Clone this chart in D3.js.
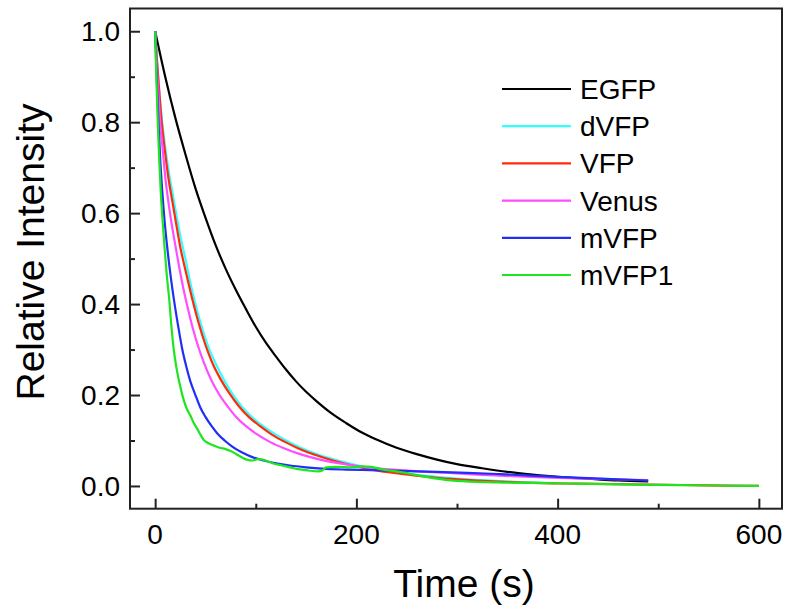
<!DOCTYPE html>
<html>
<head>
	<title>Photobleaching curves</title>
	<style>
		body { margin: 0; background: #fff; }
		svg text { font-family: "Liberation Sans", Arial, sans-serif; fill: #000; }
		.line { fill: none; stroke-width: 2.2px; stroke-linejoin: round; }
	</style>
</head>
<body>
	<div id="chart"></div>
	<script src="https://cdn.jsdelivr.net/npm/d3@7"></script>
	<script>
		// series names and colours (legend order)
		var seriesNames = ['EGFP', 'dVFP', 'VFP', 'Venus', 'mVFP', 'mVFP1'];
		var seriesColors = ['#000000', '#33ffff', '#ff2a0a', '#ff4dff', '#1f2ff5', '#1ee61e'];

		// values: [time (s), relative intensity]
		var egfp = [[0,1.0],[10,0.90],[20,0.81],[30,0.73],[40,0.655],[50,0.59],[60,0.53],[70,0.478],[80,0.432],[90,0.39],[100,0.35],[110,0.315],[120,0.285],[130,0.256],[140,0.23],[150,0.207],[160,0.187],[175,0.16],[190,0.138],[205,0.118],[220,0.102],[240,0.084],[260,0.07],[280,0.058],[300,0.048],[325,0.039],[350,0.031],[375,0.025],[400,0.02],[430,0.016],[460,0.012],[490,0.01]];
		var dvfp = [[0,1],[2,0.93],[4,0.87],[7,0.8],[10,0.745],[14,0.685],[18,0.635],[22,0.585],[26,0.54],[30,0.5],[35,0.447],[40,0.4],[46,0.352],[53,0.305],[60,0.27],[68,0.235],[77,0.202],[86,0.175],[96,0.152],[107,0.132],[120,0.113],[133,0.097],[147,0.082],[162,0.069],[180,0.057],[200,0.046],[220,0.037],[243,0.029],[270,0.022],[300,0.016],[343,0.0105],[370,0.008],[400,0.006]];
		var vfp = [[0,1],[2,0.93],[4,0.87],[6.5,0.8],[9.5,0.74],[13,0.68],[17,0.627],[21,0.575],[25,0.525],[29,0.485],[33,0.447],[37,0.41],[43,0.36],[50,0.31],[57,0.27],[65,0.235],[74,0.203],[83,0.176],[93,0.152],[104,0.132],[116,0.113],[129,0.097],[143,0.082],[158,0.069],[175,0.057],[194,0.046],[215,0.036],[243,0.027],[280,0.018],[320,0.012],[360,0.008],[420,0.005],[490,0.003],[550,0.0015],[600,0.0]];
		var venus = [[0,1],[1.5,0.93],[3,0.87],[5,0.8],[7.5,0.74],[10,0.68],[13,0.627],[16.5,0.575],[20,0.53],[24,0.48],[28,0.435],[32,0.395],[37,0.35],[43,0.305],[49,0.268],[56,0.232],[64,0.2],[72,0.175],[80,0.153],[90,0.132],[101,0.114],[114,0.097],[128,0.083],[144,0.07],[164,0.058],[185,0.049],[210,0.041],[243,0.035],[280,0.03],[320,0.025],[360,0.021],[400,0.018],[450,0.015],[490,0.013]];
		var mvfp = [[0,1],[1,0.93],[2,0.87],[3.3,0.8],[5,0.72],[7,0.65],[9.5,0.58],[12.5,0.515],[15.5,0.46],[19,0.405],[23,0.35],[27,0.3],[31,0.262],[35,0.23],[40,0.2],[45,0.172],[50,0.152],[56,0.132],[62,0.115],[69,0.1],[77,0.086],[86,0.074],[96,0.064],[108,0.056],[120,0.05],[134,0.045],[150,0.041],[166,0.038],[190,0.036],[214,0.035],[260,0.032],[310,0.029],[343,0.026],[400,0.02],[442,0.016],[490,0.012]];
		var mvfp1 = [[0,1],[0.8,0.93],[1.6,0.87],[2.6,0.8],[4,0.72],[5.5,0.65],[7.5,0.58],[9.5,0.52],[11.5,0.465],[14,0.41],[16,0.355],[18.5,0.3],[21,0.262],[24,0.228],[27.5,0.196],[31,0.172],[35,0.155],[38,0.14],[42,0.125],[45,0.113],[48,0.102],[52,0.095],[57,0.09],[64,0.084],[70,0.081],[75,0.077],[80,0.071],[86,0.063],[91,0.058],[97,0.056],[102,0.059],[107,0.058],[112,0.054],[118,0.049],[126,0.045],[134,0.041],[142,0.037],[152,0.034],[162,0.032],[166,0.034],[170,0.041],[180,0.042],[195,0.041],[205,0.043],[215,0.042],[224,0.037],[240,0.032],[260,0.024],[280,0.016],[300,0.011],[340,0.008],[396,0.006],[450,0.004],[500,0.0025],[550,0.001],[600,0.0]];
		var seriesData = [egfp, dvfp, vfp, venus, mvfp, mvfp1];

		// tick labels
		var xTicks = [0, 200, 400, 600];
		var xMinorTicks = [100, 300, 500];
		var yTicks = [0.0, 0.2, 0.4, 0.6, 0.8, 1.0];
		var yMinorTicks = [0.1, 0.3, 0.5, 0.7, 0.9];

		var width = 789, height = 612;
		var plot = { left: 130, right: 782, top: 8.5, bottom: 508.7 };

		var svg = d3.select('#chart')
						.append('svg')
						.attr('width', width)
						.attr('height', height);

		var x = d3.scaleLinear()
						.domain([-25, 623])
						.range([plot.left, plot.right]);

		var y = d3.scaleLinear()
						.domain([-0.05, 1.05])
						.range([plot.bottom, plot.top]);

		var lineFn = d3.line()
						.x(function (d) { return x(d[0]); })
						.y(function (d) { return y(d[1]); })
						.curve(d3.curveMonotoneX);

		// curves
		seriesData.forEach(function (data, i) {
			svg.append('path')
				.datum(data)
				.attr('class', 'line')
				.attr('stroke', seriesColors[i])
				.attr('d', lineFn);
		});

		// axes: ticks point inward, no labels from the axis itself
		var xAxis = svg.append('g').attr('transform', 'translate(0,' + plot.bottom + ')')
						.call(d3.axisBottom(x).tickValues(xTicks).tickSize(-10).tickFormat(''));
		var xMinor = svg.append('g').attr('transform', 'translate(0,' + plot.bottom + ')')
						.call(d3.axisBottom(x).tickValues(xMinorTicks).tickSize(-5).tickFormat(''));
		var yAxis = svg.append('g').attr('transform', 'translate(' + plot.left + ',0)')
						.call(d3.axisLeft(y).tickValues(yTicks).tickSize(-10).tickFormat(''));
		var yMinor = svg.append('g').attr('transform', 'translate(' + plot.left + ',0)')
						.call(d3.axisLeft(y).tickValues(yMinorTicks).tickSize(-5).tickFormat(''));
		[xAxis, xMinor, yAxis, yMinor].forEach(function (g) {
			g.select('.domain').remove();
			g.selectAll('line').attr('stroke', '#222').attr('stroke-width', 2);
		});

		// frame
		svg.append('rect')
			.attr('x', plot.left)
			.attr('y', plot.top)
			.attr('width', plot.right - plot.left)
			.attr('height', plot.bottom - plot.top)
			.attr('fill', 'none')
			.attr('stroke', '#222')
			.attr('stroke-width', 2);

		// tick labels
		svg.selectAll('.xlab').data(xTicks).enter().append('text')
			.attr('x', function (d) { return x(d); })
			.attr('y', 544)
			.attr('text-anchor', 'middle')
			.style('font-size', '28px')
			.text(function (d) { return d; });

		svg.selectAll('.ylab').data(yTicks).enter().append('text')
			.attr('x', 120)
			.attr('y', function (d) { return y(d) + 10; })
			.attr('text-anchor', 'end')
			.style('font-size', '28px')
			.text(function (d) { return d3.format('.1f')(d); });

		// axis titles
		svg.append('text')
			.attr('x', 464)
			.attr('y', 597)
			.attr('text-anchor', 'middle')
			.style('font-size', '39px')
			.text('Time (s)');

		svg.append('text')
			.attr('transform', 'translate(44,252) rotate(-90)')
			.attr('text-anchor', 'middle')
			.style('font-size', '39px')
			.text('Relative Intensity');

		// legend
		var legend = svg.append('g').attr('transform', 'translate(502,89)');
		var rows = legend.selectAll('g').data(seriesNames).enter().append('g')
						.attr('transform', function (d, i) { return 'translate(0,' + (i * 37.2) + ')'; });
		rows.append('line')
			.attr('x1', 0).attr('x2', 69)
			.attr('y1', 0).attr('y2', 0)
			.attr('stroke', function (d, i) { return seriesColors[i]; })
			.attr('stroke-width', 2.2);
		rows.append('text')
			.attr('x', 78)
			.attr('y', 10)
			.style('font-size', '28px')
			.text(function (d) { return d; });
	</script>
</body>
</html>
